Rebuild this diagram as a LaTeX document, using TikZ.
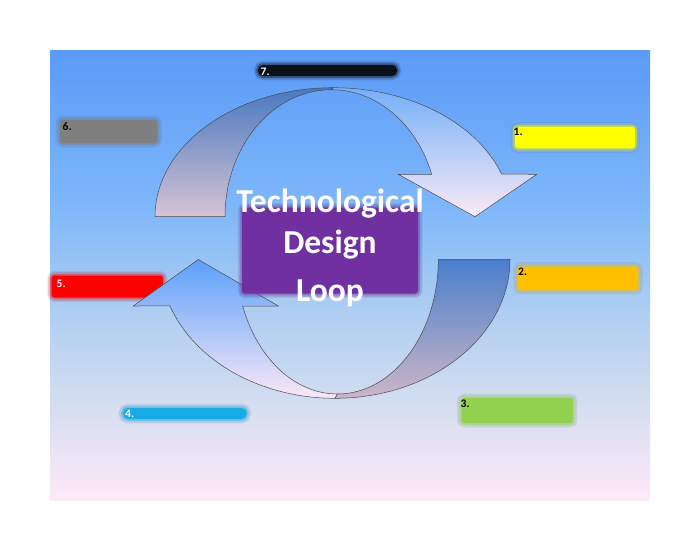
\documentclass[tikz,border=0pt]{standalone}
\usepackage{fontspec}
\setmainfont{Carlito}
\definecolor{bgA}{HTML}{5B9BF8}
\definecolor{bgB}{HTML}{7DB6FA}
\definecolor{bgC}{HTML}{AACCF2}
\definecolor{bgD}{HTML}{D3DDF0}
\definecolor{bgE}{HTML}{FDE9F8}
\definecolor{tdA}{HTML}{4A78C0}
\definecolor{tdB}{HTML}{D6C4D4}
\definecolor{tlA}{HTML}{74B0F8}
\definecolor{tlB}{HTML}{FBEAF6}
\definecolor{bdA}{HTML}{4A7ECC}
\definecolor{bdB}{HTML}{CCB6C6}
\definecolor{blA}{HTML}{5CA0FA}
\definecolor{blB}{HTML}{FAE8F6}
\definecolor{purp}{HTML}{7030A0}
\definecolor{lgray}{HTML}{7F7F7F}
\definecolor{lyellow}{HTML}{FFFF00}
\definecolor{lorange}{HTML}{FFC000}
\definecolor{lgreen}{HTML}{92D050}
\definecolor{lcyan}{HTML}{18ABE6}
\definecolor{lred}{HTML}{FF0000}
\definecolor{lblack}{HTML}{0A0F18}
\pgfdeclareverticalshading{bgshade}{100bp}{color(0bp)=(bgE); color(25bp)=(bgE); color(36bp)=(bgD); color(47bp)=(bgC); color(58bp)=(bgB); color(75bp)=(bgA); color(100bp)=(bgA)}
\begin{document}
\begin{tikzpicture}[x=1pt,y=-1pt,
  arrowline/.style={draw=black!70, line width=0.5pt},
  softbox/.style={rectangle, rounded corners=3pt, inner sep=0pt, fill=#1,
    preaction={draw=black, draw opacity=0.06, line width=9pt},
    preaction={draw=#1, draw opacity=0.18, line width=7pt},
    preaction={draw=#1, draw opacity=0.35, line width=3.5pt}},
  lbl/.style={font=\bfseries\fontsize{11.5}{13}\selectfont, inner sep=0pt, anchor=west},
  title/.style={font=\bfseries\fontsize{33.5}{40}\selectfont, text=white, inner sep=0pt, anchor=base}]
\useasboundingbox (0,0) rectangle (700,550);
\fill[white] (0,0) rectangle (700,550);
\path[shading=bgshade] (50,50) rectangle (650,500);

% label boxes
\node[softbox=lblack, rounded corners=5pt, minimum width=139pt, minimum height=11pt] (b7) at (327.5,70.5) {};
\node[softbox=lgray, minimum width=97pt, minimum height=23pt] (b6) at (108.5,131.5) {};
\node[softbox=lyellow, minimum width=120pt, minimum height=21.6pt] (b1) at (575,137.5) {};
\node[softbox=lorange, minimum width=120pt, minimum height=23.3pt] (b2) at (578,278.3) {};
\node[softbox=lgreen, minimum width=111.3pt, minimum height=25pt] (b3) at (517.3,410.5) {};
\node[softbox=lcyan, rounded corners=5pt, minimum width=123.7pt, minimum height=11pt] (b4) at (184.8,413.5) {};
\node[softbox=lred, minimum width=111.3pt, minimum height=22pt] (b5) at (107.3,286.5) {};

% top arrow
\path[arrowline, top color=tdA, bottom color=tdB] (155,216.7) arc[start angle=180, end angle=270, x radius=178.3, y radius=129] -- (331.3,89.7) arc[start angle=270, end angle=180, x radius=106.3, y radius=127] -- cycle;
\path[arrowline, top color=tlA, bottom color=tlB] (333.3,87.7) arc[start angle=270, end angle=340.7, x radius=178.3, y radius=129] -- (536.7,174.3) -- (475,216.7) -- (398.3,174.3) -- (431.7,174.3) arc[start angle=340.5, end angle=270, x radius=106.5, y radius=127] -- cycle;

% bottom arrow
\path[arrowline, top color=bdA, bottom color=bdB] (510,259.3) arc[start angle=0, end angle=90, x radius=175.1, y radius=139] -- (337.4,394) arc[start angle=90, end angle=0, x radius=100.9, y radius=134.7] -- cycle;
\path[arrowline, top color=blA, bottom color=blB] (334.9,398.3) arc[start angle=90, end angle=160.4, x radius=175.1, y radius=139] -- (133.3,306) -- (198.3,259.5) -- (278.3,306) -- (242.7,306) arc[start angle=159.7, end angle=90, x radius=100.9, y radius=134.7] -- cycle;

% centre box
\node[softbox=purp, minimum width=176pt, minimum height=86pt] (core) at (330,250.5) {};
\node[title] (tt1) at (330,212.7) {Technological};
\node[title] (tt2) at (330,253.3) {Design};
\node[title] (tt3) at (330,301.7) {Loop};

% label texts
\node[lbl, text=white] (t7) at (260.5,71.7) {7.};
\node[lbl, text=black] (t6) at (62.5,126.2) {6.};
\node[lbl, text=black] (t1) at (513.5,132) {1.};
\node[lbl, text=black] (t2) at (518,272) {2.};
\node[lbl, text=black] (t3) at (460.5,403.7) {3.};
\node[lbl, text=white] (t4) at (125,413.8) {4.};
\node[lbl, text=white] (t5) at (56.5,284.3) {5.};
\end{tikzpicture}
\end{document}
